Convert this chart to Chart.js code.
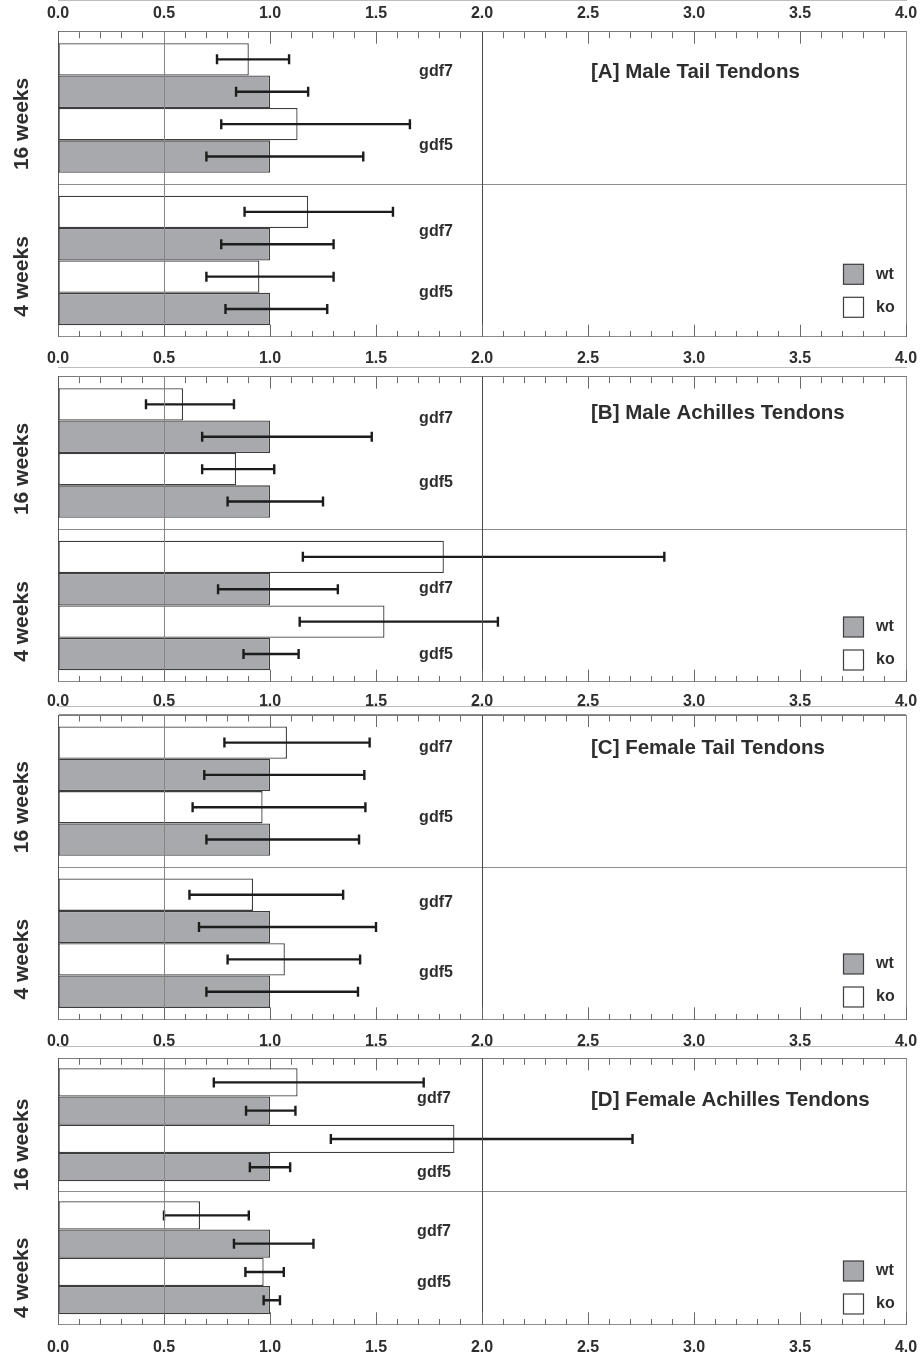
<!DOCTYPE html>
<html><head><meta charset="utf-8">
<script src="https://cdn.jsdelivr.net/npm/chart.js@4.4.0/dist/chart.umd.min.js"></script>
<style>
html,body{margin:0;padding:0;background:#fff;}
#wrap{position:relative;width:923px;height:1357px;overflow:hidden;}
.panel{position:absolute;left:0;width:923px;}
</style></head><body>
<div id="wrap">
  <div class="panel" style="top:0px;height:367px"><canvas id="cA"></canvas></div>
  <div class="panel" style="top:367px;height:339px"><canvas id="cB"></canvas></div>
  <div class="panel" style="top:706px;height:340px"><canvas id="cC"></canvas></div>
  <div class="panel" style="top:1046px;height:311px"><canvas id="cD"></canvas></div>
</div>
<script>
// ---------- data ----------
const ageGroups = ['16 weeks', '4 weeks'];
const rowGenotypes = ['ko', 'wt', 'ko', 'wt'];
const rowGenes = ['gdf7', 'gdf7', 'gdf5', 'gdf5'];
const legendLabels = ['wt', 'ko'];
const panelTitles = ['[A] Male Tail Tendons', '[B] Male Achilles Tendons', '[C] Female Tail Tendons', '[D] Female Achilles Tendons'];
const xTickLabels = ['0.0', '0.5', '1.0', '1.5', '2.0', '2.5', '3.0', '3.5', '4.0'];

// [A] male tail tendons (rows: ko gdf7, wt gdf7, ko gdf5, wt gdf5)
const maleTail16 = [0.90, 1.00, 1.13, 1.00];
const maleTail16Lo = [0.75, 0.84, 0.77, 0.70];
const maleTail16Hi = [1.09, 1.18, 1.66, 1.44];
const maleTail4 = [1.18, 1.00, 0.95, 1.00];
const maleTail4Lo = [0.88, 0.77, 0.70, 0.79];
const maleTail4Hi = [1.58, 1.30, 1.30, 1.27];
// [B] male achilles tendons
const maleAchilles16 = [0.59, 1.00, 0.84, 1.00];
const maleAchilles16Lo = [0.415, 0.68, 0.68, 0.80];
const maleAchilles16Hi = [0.83, 1.48, 1.02, 1.25];
const maleAchilles4 = [1.82, 1.00, 1.54, 1.00];
const maleAchilles4Lo = [1.155, 0.755, 1.14, 0.875];
const maleAchilles4Hi = [2.86, 1.32, 2.075, 1.135];
// [C] female tail tendons
const femaleTail16 = [1.08, 1.00, 0.965, 1.00];
const femaleTail16Lo = [0.785, 0.69, 0.635, 0.70];
const femaleTail16Hi = [1.47, 1.445, 1.45, 1.42];
const femaleTail4 = [0.92, 1.00, 1.07, 1.00];
const femaleTail4Lo = [0.62, 0.665, 0.80, 0.70];
const femaleTail4Hi = [1.345, 1.50, 1.425, 1.415];
// [D] female achilles tendons
const femaleAchilles16 = [1.13, 1.00, 1.87, 1.00];
const femaleAchilles16Lo = [0.735, 0.887, 1.287, 0.905];
const femaleAchilles16Hi = [1.725, 1.12, 2.71, 1.095];
const femaleAchilles4 = [0.67, 1.00, 0.97, 1.00];
const femaleAchilles4Lo = [0.50, 0.83, 0.884, 0.97];
const femaleAchilles4Hi = [0.90, 1.205, 1.065, 1.047];

// ---------- style ----------
const FONT = '"Liberation Sans", Arial, Helvetica, sans-serif';
const TEXT = '#2e2e2e';
const FILL = { wt: '#a7a9ac', ko: '#ffffff' };
Chart.defaults.font.family = FONT;
Chart.defaults.color = TEXT;

const isMajor = v => Math.abs(v * 2 - Math.round(v * 2)) < 1e-6;
const near = (v, t) => Math.abs(v - t) < 1e-6;

const errorBarPlugin = {
  id: 'errorBars',
  afterDatasetsDraw(chart) {
    const ctx = chart.ctx, xs = chart.scales.x;
    ctx.save();
    ctx.setLineDash([]);
    ctx.strokeStyle = '#1c1c1c';
    ctx.lineWidth = 2.4;
    chart.data.datasets.forEach((ds, i) => {
      chart.getDatasetMeta(i).data.forEach((el, j) => {
        const x1 = xs.getPixelForValue(ds.errLo[j]);
        const x2 = xs.getPixelForValue(ds.errHi[j]);
        const y = el.y, c = 5;
        ctx.beginPath();
        ctx.moveTo(x1, y); ctx.lineTo(x2, y);
        ctx.moveTo(x1, y - c); ctx.lineTo(x1, y + c);
        ctx.moveTo(x2, y - c); ctx.lineTo(x2, y + c);
        ctx.stroke();
      });
    });
    ctx.restore();
  }
};

function makeDecor(L, title) {
  return {
    id: 'decor',
    afterDraw(chart) {
      const ctx = chart.ctx, a = chart.chartArea;
      ctx.save();
      ctx.setLineDash([]);
      ctx.fillStyle = TEXT;
      ctx.textBaseline = 'middle';
      // panel title
      ctx.font = 'bold 20.5px ' + FONT;
      ctx.textAlign = 'left';
      ctx.fillText(title, L.titleX, a.top + L.titleDy);
      // gene labels
      ctx.font = 'bold 16px ' + FONT;
      ctx.textAlign = 'center';
      ageGroups.forEach((ag, j) => {
        [0, 2].forEach((di, k) => {
          const el = chart.getDatasetMeta(di).data[j];
          const yb = el.y + el.height / 2;
          ctx.fillText(rowGenes[di], L.geneX, yb + L.geneShift[j][k] * el.height);
        });
      });
      // legend
      legendLabels.forEach((lab, k) => {
        const top = a.bottom + L.legendDy + k * 33;
        ctx.fillStyle = FILL[lab];
        ctx.fillRect(843.5, top, 20, 20);
        ctx.strokeStyle = '#3d3d3d';
        ctx.lineWidth = 1.2;
        ctx.strokeRect(843.5, top, 20, 20);
        ctx.fillStyle = TEXT;
        ctx.font = 'bold 16px ' + FONT;
        ctx.textAlign = 'left';
        ctx.fillText(lab, 876, top + 10);
      });
      ctx.restore();
    }
  };
}

function buildPanel(canvasId, title, v16, lo16, hi16, v4, lo4, hi4, L) {
  const datasets = rowGenotypes.map((g, i) => ({
    label: g + ' ' + rowGenes[i],
    data: [v16[i], v4[i]],
    errLo: [lo16[i], lo4[i]],
    errHi: [hi16[i], hi4[i]],
    backgroundColor: FILL[g],
    borderColor: '#3d3d3d',
    borderWidth: 1.3,
    borderSkipped: false,
    barPercentage: 1,
    categoryPercentage: 0.85
  }));
  const tickDash = (c, off) => (c.tick && isMajor(c.tick.value)) ? [] : [6, off];
  const xLabel = v => isMajor(v) ? xTickLabels[Math.round(v * 2)] : '';
  new Chart(document.getElementById(canvasId), {
    type: 'bar',
    data: { labels: ageGroups, datasets },
    options: {
      indexAxis: 'y',
      responsive: true,
      maintainAspectRatio: false,
      animation: false,
      events: [],
      layout: { padding: { left: 0, right: 17, top: 0, bottom: 0 } },
      plugins: { legend: { display: false }, tooltip: { enabled: false } },
      scales: {
        x: {
          type: 'linear', position: 'bottom', min: 0, max: 4,
          border: { color: '#7a7a7a', width: 1 },
          grid: {
            z: 1,
            tickLength: -12,
            tickColor: '#6a6a6a',
            tickWidth: 1,
            tickBorderDash: c => tickDash(c, 60),
            color: c => {
              const v = c.tick ? c.tick.value : -1;
              if (near(v, 0.5)) return '#858585';
              if (near(v, 2.0)) return '#4a4a4a';
              if (near(v, 4.0)) return '#8a8a8a';
              return 'rgba(0,0,0,0)';
            },
            lineWidth: 1
          },
          ticks: {
            stepSize: 0.1, autoSkip: false, minRotation: 0, maxRotation: 0,
            padding: L.botPad,
            font: { size: 16, weight: 'bold' }, color: TEXT,
            callback: xLabel
          },
          afterFit: s => { s.height = L.botH; s.paddingLeft = 0; s.paddingRight = 0; }
        },
        x2: {
          type: 'linear', position: 'top', axis: 'x', min: 0, max: 4,
          border: { color: '#7a7a7a', width: 1 },
          grid: {
            drawOnChartArea: false,
            tickLength: -12,
            tickColor: '#6a6a6a',
            tickWidth: 1,
            tickBorderDash: c => tickDash(c, 6),
            tickBorderDashOffset: c => (c.tick && isMajor(c.tick.value)) ? 0 : 6.5
          },
          ticks: {
            display: L.topLabels,
            stepSize: 0.1, autoSkip: false, minRotation: 0, maxRotation: 0,
            padding: L.topPad,
            font: { size: 16, weight: 'bold' }, color: TEXT,
            callback: xLabel
          },
          afterFit: s => { s.height = L.topH; s.paddingLeft = 0; s.paddingRight = 0; }
        },
        y: {
          type: 'category',
          grid: { color: '#8c8c8c', lineWidth: 1, drawTicks: false, offset: true },
          border: { color: '#555555', width: 1 },
          ticks: {
            font: { size: 21, weight: 'bold' }, color: TEXT,
            minRotation: 90, maxRotation: 90, crossAlign: 'center',
            padding: -10, labelOffset: L.yLabelOffset
          },
          afterFit: s => { s.width = 58; }
        }
      }
    },
    plugins: [errorBarPlugin, makeDecor(L, title)]
  });
}

buildPanel('cA', panelTitles[0], maleTail16, maleTail16Lo, maleTail16Hi, maleTail4, maleTail4Lo, maleTail4Hi,
  { topH: 31.7, botH: 30.3, topLabels: true, topPad: 20.3, botPad: 24.5, titleX: 591, titleDy: 40.3, geneX: 436,
    geneShift: [[-0.12, 0.17], [0.11, 0.0]], legendDy: -72.4, yLabelOffset: 16 });
buildPanel('cB', panelTitles[1], maleAchilles16, maleAchilles16Lo, maleAchilles16Hi, maleAchilles4, maleAchilles4Lo, maleAchilles4Hi,
  { topH: 9.7, botH: 24.3, topLabels: false, topPad: 0, botPad: 22.5, titleX: 591, titleDy: 36.3, geneX: 436,
    geneShift: [[-0.05, -0.1], [0.47, 0.53]], legendDy: -64.7, yLabelOffset: 16 });
buildPanel('cC', panelTitles[2], femaleTail16, femaleTail16Lo, femaleTail16Hi, femaleTail4, femaleTail4Lo, femaleTail4Hi,
  { topH: 9, botH: 26.7, topLabels: false, topPad: 0, botPad: 25, titleX: 591, titleDy: 33, geneX: 436,
    geneShift: [[-0.33, -0.18], [-0.26, -0.1]], legendDy: -65.3, yLabelOffset: 16 });
buildPanel('cD', panelTitles[3], femaleAchilles16, femaleAchilles16Lo, femaleAchilles16Hi, femaleAchilles4, femaleAchilles4Lo, femaleAchilles4Hi,
  { topH: 12.3, botH: 32.7, topLabels: false, topPad: 0, botPad: 26, titleX: 591, titleDy: 41.7, geneX: 434,
    geneShift: [[0.07, 0.7], [0.08, -0.13]], legendDy: -63.3, yLabelOffset: 20 });
</script>
</body></html>
